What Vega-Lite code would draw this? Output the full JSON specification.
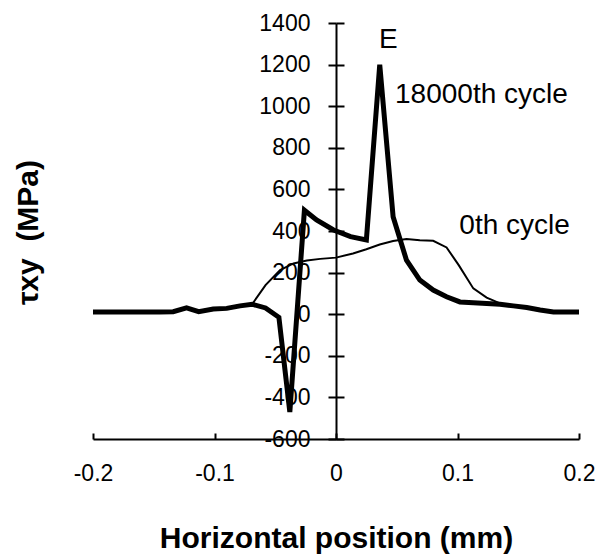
{
  "$schema": "https://vega.github.io/schema/vega-lite/v6.json",
  "width": 486,
  "height": 416,
  "autosize": {"type": "none"},
  "padding": {"left": 93, "top": 23, "right": 25, "bottom": 118},
  "background": "white",
  "config": {
    "view": {"stroke": null},
    "font": "Liberation Sans",
    "axis": {"grid": false, "domainColor": "black", "tickColor": "black", "labelColor": "black", "titleColor": "black", "domainWidth": 2, "tickWidth": 2, "labelFont": "Liberation Sans", "titleFont": "Liberation Sans"}
  },
  "datasets": {
    "cycle0": [
      {"x": -0.2, "y": 11}, {"x": -0.189, "y": 11}, {"x": -0.178, "y": 11}, {"x": -0.167, "y": 11},
      {"x": -0.156, "y": 11}, {"x": -0.145, "y": 11}, {"x": -0.134, "y": 12}, {"x": -0.123, "y": 30},
      {"x": -0.113, "y": 12}, {"x": -0.101, "y": 25}, {"x": -0.09, "y": 28}, {"x": -0.079, "y": 40},
      {"x": -0.069, "y": 48}, {"x": -0.058, "y": 140}, {"x": -0.046, "y": 212}, {"x": -0.035, "y": 244},
      {"x": -0.024, "y": 258}, {"x": -0.013, "y": 266}, {"x": 0.0, "y": 272}, {"x": 0.014, "y": 292},
      {"x": 0.025, "y": 312}, {"x": 0.036, "y": 335}, {"x": 0.047, "y": 352}, {"x": 0.058, "y": 362},
      {"x": 0.069, "y": 356}, {"x": 0.08, "y": 353}, {"x": 0.091, "y": 321}, {"x": 0.101, "y": 236},
      {"x": 0.113, "y": 124}, {"x": 0.124, "y": 80}, {"x": 0.135, "y": 52}, {"x": 0.146, "y": 42},
      {"x": 0.157, "y": 32}, {"x": 0.168, "y": 20}, {"x": 0.179, "y": 11}, {"x": 0.19, "y": 11},
      {"x": 0.2, "y": 11}
    ],
    "cycle18000": [
      {"x": -0.2, "y": 11}, {"x": -0.189, "y": 11}, {"x": -0.178, "y": 11}, {"x": -0.167, "y": 11},
      {"x": -0.156, "y": 11}, {"x": -0.145, "y": 11}, {"x": -0.134, "y": 12}, {"x": -0.123, "y": 30},
      {"x": -0.113, "y": 12}, {"x": -0.101, "y": 25}, {"x": -0.09, "y": 28}, {"x": -0.079, "y": 40},
      {"x": -0.069, "y": 48}, {"x": -0.058, "y": 30}, {"x": -0.047, "y": -15}, {"x": -0.038, "y": -470},
      {"x": -0.026, "y": 500}, {"x": -0.016, "y": 453}, {"x": -0.002, "y": 405}, {"x": 0.012, "y": 373},
      {"x": 0.025, "y": 357}, {"x": 0.036, "y": 1200}, {"x": 0.047, "y": 469}, {"x": 0.058, "y": 260},
      {"x": 0.069, "y": 164}, {"x": 0.08, "y": 116}, {"x": 0.091, "y": 84}, {"x": 0.102, "y": 59},
      {"x": 0.113, "y": 55}, {"x": 0.124, "y": 52}, {"x": 0.135, "y": 48}, {"x": 0.146, "y": 40},
      {"x": 0.157, "y": 32}, {"x": 0.168, "y": 20}, {"x": 0.179, "y": 11}, {"x": 0.19, "y": 11},
      {"x": 0.2, "y": 11}
    ],
    "labels": [
      {"x": 0.0354, "y": 1318, "label": "E"},
      {"x": 0.0486, "y": 1055, "label": "18000th cycle"},
      {"x": 0.1015, "y": 424, "label": "0th cycle"}
    ]
  },
  "layer": [
    {
      "data": {"name": "cycle0"},
      "mark": {"type": "line", "color": "black", "strokeWidth": 2},
      "encoding": {
        "x": {
          "field": "x", "type": "quantitative",
          "scale": {"domain": [-0.2, 0.2], "nice": false, "zero": false},
          "axis": {
            "title": "Horizontal position (mm)", "values": [-0.2, -0.1, 0, 0.1, 0.2],
            "labelExpr": "toString(datum.value)", "tickSize": -6, "labelPadding": 29,
            "labelFontSize": 23, "titleFontSize": 30, "titleFontWeight": "bold",
            "titleBaseline": "alphabetic", "titleY": 108, "labelFlush": false
          }
        },
        "y": {
          "field": "y", "type": "quantitative",
          "scale": {"domain": [-600, 1400], "nice": false, "zero": false},
          "axis": {
            "orient": "left", "offset": -243, "title": "τxy\u00a0 (MPa)",
            "values": [-600, -400, -200, 0, 200, 400, 600, 800, 1000, 1200, 1400],
            "labelExpr": "toString(datum.value)", "tickSize": 8, "labelPadding": 18,
            "labelFontSize": 23, "titleFontSize": 30, "titleFontWeight": "bold",
            "titleX": -308, "titleY": 209, "titleAngle": -90, "titleAlign": "center", "titleBaseline": "middle",
            "labelFlush": false
          }
        }
      }
    },
    {
      "data": {"name": "cycle18000"},
      "mark": {"type": "line", "color": "black", "strokeWidth": 5},
      "encoding": {
        "x": {"field": "x", "type": "quantitative"},
        "y": {
          "field": "y", "type": "quantitative",
          "axis": {
            "orient": "right", "offset": -243, "title": null, "labels": false, "domain": false,
            "values": [-600, -400, -200, 0, 200, 400, 600, 800, 1000, 1200, 1400], "tickSize": 8
          }
        }
      }
    },
    {
      "data": {"name": "labels"},
      "mark": {"type": "text", "align": "left", "baseline": "middle", "fontSize": 28, "font": "Liberation Sans", "color": "black"},
      "encoding": {
        "x": {"field": "x", "type": "quantitative"},
        "y": {"field": "y", "type": "quantitative", "axis": null},
        "text": {"field": "label"}
      }
    }
  ],
  "resolve": {"axis": {"y": "independent"}}
}
